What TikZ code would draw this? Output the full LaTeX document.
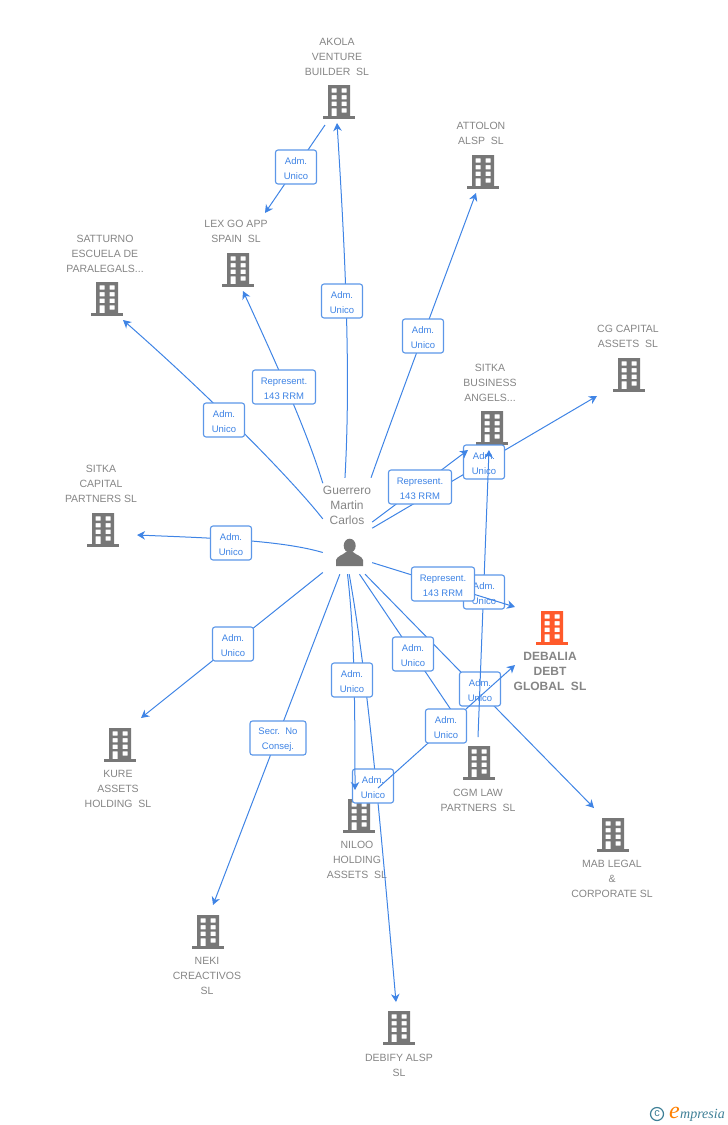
\documentclass[tikz,border=0pt]{standalone}
\usepackage{fontspec}
\setmainfont{Liberation Sans}
\newfontfamily\logofont[Ligatures=TeX]{Liberation Serif}
\usetikzlibrary{arrows.meta}
\definecolor{linkblue}{HTML}{3F84E5}
\definecolor{boxblue}{HTML}{5C97E8}
\definecolor{iconGrey}{HTML}{777777}
\definecolor{nameGrey}{HTML}{858585}
\definecolor{mainOrange}{HTML}{FF5A2B}
\definecolor{logoTeal}{HTML}{3E7F96}
\newcommand{\rolelabel}[2]{\rule{0pt}{10pt}#1\\#2}
\tikzset{
    link/.style={draw=linkblue,line width=1pt},
    linkarrow/.style={link,-{Stealth[length=8pt,width=8.5pt,inset=2.5pt]}},
    rolebox/.style={draw=boxblue,line width=1.1pt,fill=white,rounded corners=2.5pt,text=linkblue,align=center,inner sep=0pt,minimum height=34pt,font=\fontsize{9.5}{15}\selectfont},
    adm/.style={rolebox,minimum width=41pt},
    rep/.style={rolebox,minimum width=63pt},
    secr/.style={rolebox,minimum width=56pt},
    company/.style={text=nameGrey,align=center,inner sep=0pt,font=\fontsize{10.5}{15}\selectfont},
    maincompany/.style={text=nameGrey,align=center,inner sep=0pt,font=\bfseries\fontsize{12}{15}\selectfont},
    pics/buildingicon/.style={code={
        \fill[#1,even odd rule] (-11,-16) rectangle (11,15)
            (-7.5,-12.7) rectangle (-2.5,-8.3) (2.5,-12.7) rectangle (7.5,-8.3)
            (-7.5,-6) rectangle (-2.5,-1.6) (2.5,-6) rectangle (7.5,-1.6)
            (-7.5,0.7) rectangle (-2.5,5) (2.5,0.7) rectangle (7.5,5)
            (-7.5,7.3) rectangle (-2.5,15) (2.5,7.3) rectangle (7.5,11.7);
        \fill[#1] (-16,15) rectangle (16,17.5);
    }}
}
\begin{document}
\begin{tikzpicture}[x=1pt,y=-1pt]
    \useasboundingbox (0,0) rectangle (728,1125);
    \pic at (339,101) {buildingicon=iconGrey};
    \pic at (483,171) {buildingicon=iconGrey};
    \pic at (238,269) {buildingicon=iconGrey};
    \pic at (107,298) {buildingicon=iconGrey};
    \pic at (629,374) {buildingicon=iconGrey};
    \pic at (492,427) {buildingicon=iconGrey};
    \pic at (103,529) {buildingicon=iconGrey};
    \pic at (552,627) {buildingicon=mainOrange};
    \pic at (120,744) {buildingicon=iconGrey};
    \pic at (479,762) {buildingicon=iconGrey};
    \pic at (613,834) {buildingicon=iconGrey};
    \pic at (359,815) {buildingicon=iconGrey};
    \pic at (208,931) {buildingicon=iconGrey};
    \pic at (399,1027) {buildingicon=iconGrey};

    \node[company] (akola) at (337,56.8) {AKOLA\\VENTURE\\BUILDER~~SL};
    \node[company] (attolon) at (481,133.3) {ATTOLON\\ALSP~~SL};
    \node[company] (lexgo) at (236,231.3) {LEX GO APP\\SPAIN~~SL};
    \node[company] (satturno) at (105,253.8) {SATTURNO\\ESCUELA DE\\PARALEGALS...};
    \node[company] (cgcapital) at (628,336.3) {CG CAPITAL\\ASSETS~~SL};
    \node[company] (sitkabiz) at (490,382.8) {SITKA\\BUSINESS\\ANGELS...};
    \node[company] (sitkacap) at (101,483.8) {SITKA\\CAPITAL\\PARTNERS SL};
    \node[maincompany] (debalia) at (550,671.5) {DEBALIA\\DEBT\\GLOBAL~~SL};
    \node[company] (kure) at (118,788.8) {KURE\\ASSETS\\HOLDING~~SL};
    \node[company] (cgmlaw) at (478,800.3) {CGM LAW\\PARTNERS~~SL};
    \node[company] (mablegal) at (612,878.8) {MAB LEGAL\\\&\\CORPORATE SL};
    \node[company] (niloo) at (357,859.8) {NILOO\\HOLDING\\ASSETS~~SL};
    \node[company] (neki) at (207,975.8) {NEKI\\CREACTIVOS\\SL};
    \node[company] (debify) at (399,1065.3) {DEBIFY ALSP\\SL};

    \node[minimum width=49pt,minimum height=96pt,inner sep=0pt] (guerrero) at (347.5,526) {};
    \node[text=nameGrey,align=center,inner sep=0pt,font=\fontsize{12}{15}\selectfont] (guerreroname) at (347,505.5) {Guerrero\\Martin\\Carlos};
    \fill[iconGrey] (349.7,545.7) ellipse (6 and 7);
    \fill[iconGrey] (336,566) -- (336,560) .. controls (337,556) and (343,555) .. (346,552) -- (353,552) .. controls (356,555) and (362,556) .. (363,560) -- (363,566) -- cycle;

    \coordinate (tipakola) at (337,123);
    \coordinate (tiplexgo) at (265,213);
    \coordinate (startakola) at (325,125);
    \coordinate (tiplexdirect) at (243,291);
    \coordinate (tipsatturno) at (123,320);
    \coordinate (tipsitkacap) at (137,535);
    \coordinate (tipkure) at (141,718);
    \coordinate (tipneki) at (213,905);
    \coordinate (tipattolon) at (476,193);
    \coordinate (tipcgcapital) at (597,396);
    \coordinate (tipsitkabiz) at (468,450);
    \coordinate (tipmab) at (594,808);
    \coordinate (tipcgm) at (466,732);
    \coordinate (tipdebify) at (396,1002);
    \coordinate (tipniloo) at (355,790);
    \coordinate (startcgm) at (478,737);
    \coordinate (tipsitkacgm) at (489,450);
    \coordinate (startniloo) at (378,788);
    \coordinate (tipdebalia) at (515,665);
    \coordinate (tipdebaliadirect) at (515,607);

    \draw[linkarrow] (guerrero.93) .. controls (351,370) and (345,250) .. (tipakola);
    \node[adm] (lblakola) at (342,301) {\rolelabel{Adm.}{Unico}};
    \draw[linkarrow] (startakola) -- (tiplexgo);
    \node[adm] (lbllexgo) at (296,167) {\rolelabel{Adm.}{Unico}};
    \draw[linkarrow] (guerrero.120) .. controls (308,435) and (283,378) .. (tiplexdirect);
    \node[rep] (lbllexrep) at (284,387) {\rolelabel{Represent.}{143 RRM}};
    \draw[linkarrow] (guerrero.164) .. controls (298,487) and (222,407) .. (tipsatturno);
    \node[adm] (lblsatturno) at (224,420) {\rolelabel{Adm.}{Unico}};
    \draw[linkarrow] (guerrero.227) .. controls (280,540) and (210,538) .. (tipsitkacap);
    \node[adm] (lblsitkacap) at (231,543) {\rolelabel{Adm.}{Unico}};
    \draw[linkarrow] (guerrero.242.5) -- (tipkure);
    \node[adm] (lblkure) at (233,644) {\rolelabel{Adm.}{Unico}};
    \draw[linkarrow] (guerrero.261) -- (tipneki);
    \node[secr] (lblneki) at (278,738) {\rolelabel{Secr.~~No}{Consej.}};
    \draw[linkarrow] (guerrero.64.9) .. controls (395,410) and (440,290) .. (tipattolon);
    \node[adm] (lblattolon) at (423,336) {\rolelabel{Adm.}{Unico}};
    \draw[linkarrow] (guerrero.355) -- (tipcgcapital);
    \node[adm] (lblcgcapital) at (484,462) {\rolelabel{Adm.}{Unico}};
    \draw[linkarrow] (guerrero.9.3) -- (tipsitkabiz);
    \node[rep] (lblsitkabiz) at (420,487) {\rolelabel{Represent.}{143 RRM}};
    \draw[linkarrow] (guerrero.290) -- (tipmab);
    \node[adm] (lblmab) at (480,689) {\rolelabel{Adm.}{Unico}};
    \draw[linkarrow] (guerrero.284.6) -- (tipcgm);
    \node[adm] (lblcgm) at (413,654) {\rolelabel{Adm.}{Unico}};
    \draw[linkarrow] (guerrero.272) .. controls (368,680) and (380,820) .. (tipdebify);
    \node[adm] (lbldebify) at (373,786) {\rolelabel{Adm.}{Unico}};
    \draw[linkarrow] (guerrero.270.6) .. controls (354,630) and (355,690) .. (tipniloo);
    \node[adm] (lblniloo) at (352,680) {\rolelabel{Adm.}{Unico}};
    \draw[linkarrow] (startcgm) -- (tipsitkacgm);
    \node[adm] (lblsitkacgm) at (484,592) {\rolelabel{Adm.}{Unico}};
    \draw[linkarrow] (startniloo) -- (tipdebalia);
    \node[adm] (lbldebalia) at (446,726) {\rolelabel{Adm.}{Unico}};
    \draw[linkarrow] (guerrero.304) -- (tipdebaliadirect);
    \node[rep] (lbldebaliarep) at (443,584) {\rolelabel{Represent.}{143 RRM}};

    \node[draw=logoTeal,line width=1.2pt,circle,minimum size=13pt,inner sep=0pt,text=logoTeal,font=\fontsize{11}{11}\selectfont] (logoc) at (657,1114) {c};
    \node[inner sep=0pt,anchor=base west,text=logoTeal,font=\logofont\itshape\fontsize{14}{14}\selectfont] (logoname) at (680,1118) {mpresia};
    \node[inner sep=0pt,anchor=base east,text=orange,font=\logofont\itshape\fontsize{24}{24}\selectfont] (logoe) at (logoname.base west) {e};
\end{tikzpicture}
\end{document}
